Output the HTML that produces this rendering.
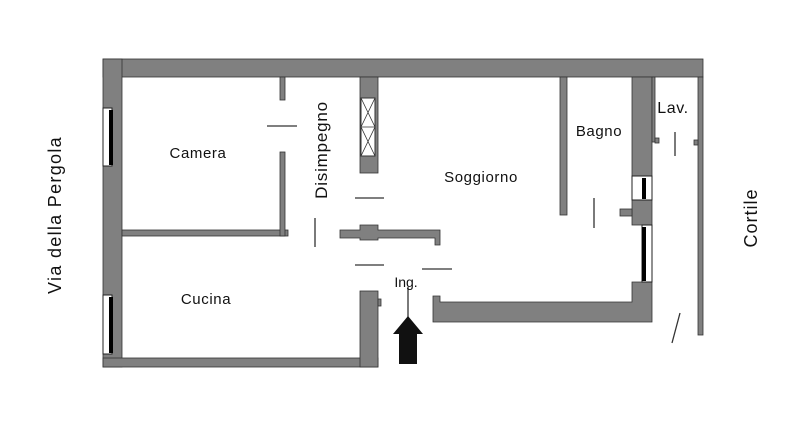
<!DOCTYPE html>
<html><head><style>body{margin:0;background:#fff}svg{display:block}text{font-family:"Liberation Sans",sans-serif;fill:#111}</style></head><body>
<svg width="800" height="426" viewBox="0 0 800 426" xmlns="http://www.w3.org/2000/svg">
<g fill="#808080" stroke="#333" stroke-width="0.8">
<rect x="103" y="59" width="600" height="18"/>
<rect x="103" y="59" width="19" height="308"/>
<rect x="103" y="358" width="275" height="9"/>
<rect x="122" y="230" width="166" height="6"/>
<rect x="280" y="77" width="5" height="23"/>
<rect x="280" y="152" width="5" height="84"/>
<rect x="360" y="77" width="18" height="96"/>
<path d="M340 230 H360 V225 H378 V230 H440 V245 H435 V238 H378 V240 H360 V238 H340 Z"/>
<rect x="360" y="291" width="18" height="76"/>
<rect x="378" y="299" width="3" height="7"/>
<path d="M433 296 H440 V302 H632 V282 H652 V322 H433 Z"/>
<rect x="632" y="77" width="20" height="99"/>
<rect x="632" y="200" width="20" height="25"/>
<rect x="620" y="209" width="12" height="7"/>
<rect x="560" y="77" width="7" height="138"/>
<rect x="698" y="77" width="5" height="258"/>
<rect x="694" y="140" width="4" height="5"/>
<rect x="652" y="77" width="3" height="65"/>
<rect x="655" y="138" width="4" height="5"/>
</g>
<g stroke="#222" stroke-width="1" fill="#fff">
<rect x="103" y="108" width="9" height="58"/>
<rect x="103" y="295" width="9" height="59"/>
<rect x="632" y="176" width="20" height="24"/>
<rect x="642" y="225" width="10" height="57"/>
</g>
<g fill="#000">
<rect x="109" y="110" width="4" height="55"/>
<rect x="109" y="297" width="4" height="56"/>
<rect x="642" y="178" width="4" height="21"/>
<rect x="642" y="227" width="4" height="54"/>
</g>
<rect x="361" y="98" width="14" height="58" fill="#fff" stroke="#333" stroke-width="1"/>
<path d="M361 98 L375 127 M375 98 L361 127 M361 127 L375 156 M375 127 L361 156 M361 127 H375" stroke="#333" stroke-width="0.8"/>
<g stroke="#333" stroke-width="1.3">
<line x1="267" y1="126" x2="297" y2="126"/>
<line x1="355" y1="198" x2="384" y2="198"/>
<line x1="355" y1="265" x2="384" y2="265"/>
<line x1="315" y1="218" x2="315" y2="247"/>
<line x1="422" y1="269" x2="452" y2="269"/>
<line x1="594" y1="198" x2="594" y2="228"/>
<line x1="675" y1="132" x2="675" y2="156"/>
<line x1="680" y1="313" x2="672" y2="343"/>
<line x1="408" y1="287" x2="408" y2="320"/>
</g>
<path d="M408 316 L423 334 H417 V364 H399 V334 H393 Z" fill="#111"/>
<g font-size="15" text-anchor="middle" letter-spacing="0.6">
<text x="198" y="158">Camera</text>
<text x="206" y="304">Cucina</text>
<text x="481" y="182">Soggiorno</text>
<text x="599" y="136">Bagno</text>
<text x="673" y="113" font-size="16">Lav.</text>
<text x="406" y="287" font-size="14" letter-spacing="0">Ing.</text>
<text transform="translate(327,150) rotate(-90)" font-size="17" letter-spacing="0.8">Disimpegno</text>
<text transform="translate(61,215) rotate(-90)" font-size="18" letter-spacing="1.3">Via della Pergola</text>
<text transform="translate(757,218) rotate(-90)" font-size="18" letter-spacing="1">Cortile</text>
</g>
</svg>
</body></html>
